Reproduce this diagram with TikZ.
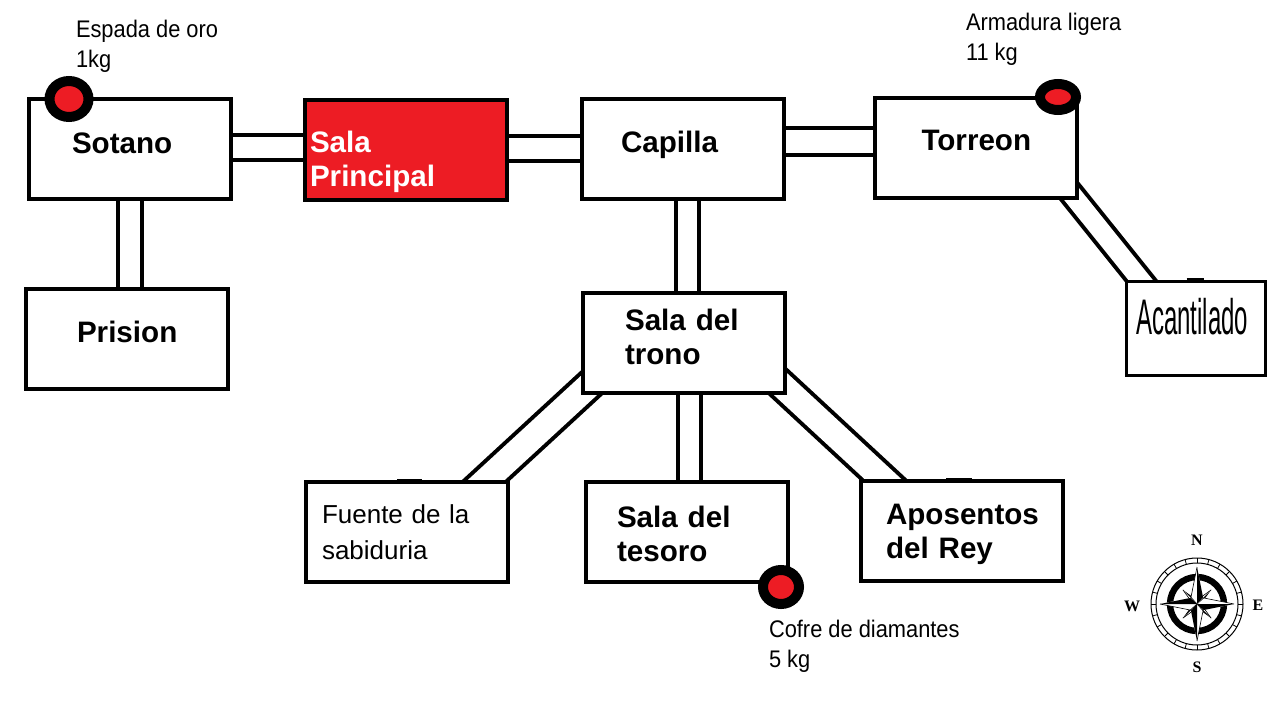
\documentclass[tikz,border=0pt]{standalone}
\usepackage{fontspec}
\setmainfont{Liberation Sans}
\newfontfamily\itemfont[FakeStretch=.91]{Liberation Sans}
\newfontfamily\tallfont[FakeStretch=.48]{Liberation Sans}
\newfontfamily\rosefont{Liberation Serif}
\usetikzlibrary{backgrounds,shapes.geometric}
\definecolor{roomred}{HTML}{ED1C24}
% text inside a box: right by #1, up by #2
\newcommand{\roomtext}[3]{\hspace*{#1}\raisebox{#2}[0pt][0pt]{\begin{tabular}{@{}l@{}}#3\end{tabular}}}
\begin{document}
\begin{tikzpicture}[x=.5pt,y=-.5pt,
    every node/.style={inner sep=0pt,outer sep=0pt},
    roombox/.style={draw,line width=2pt,fill=white,minimum width=101pt,minimum height=50pt,
      text width=101pt,align=left,font=\fontsize{14.8}{17}\selectfont\bfseries},
    plainbox/.style={roombox,font=\fontsize{13}{18}\selectfont\rmfamily},
    corridor/.style={line width=2pt,double=white,double distance=#1},
    itemdot/.style={ellipse,draw,line width=5pt,fill=roomred,minimum width=19.5pt,minimum height=18pt},
    itemlabel/.style={anchor=north west,align=left,font=\fontsize{12}{15}\selectfont\itemfont}]
    \useasboundingbox (0,0) rectangle (1280,706);

    % rooms
    \node[roombox] (sotano) at (130,149) {\roomtext{21.5pt}{-2.5pt}{Sotano}};
    \node[roombox,fill=roomred,text=white] (principal) at (406,150) {\roomtext{2.5pt}{-10pt}{Sala\\Principal}};
    \node[roombox] (capilla) at (683,149) {\roomtext{19.5pt}{-2pt}{Capilla}};
    \node[roombox] (torreon) at (975.5,148) {\roomtext{23.5pt}{-1.5pt}{Torreon}};
    \node[roombox] (prision) at (127,338.5) {\roomtext{25.5pt}{-2pt}{Prision}};
    \node[roombox] (trono) at (684,342.5) {\roomtext{21pt}{-2.5pt}{Sala del\\trono}};
    \node[plainbox] (fuente) at (407,532) {\roomtext{8pt}{-4pt}{Fuente de la\\sabiduria}};
    \node[roombox] (tesoro) at (687,532) {\roomtext{15.5pt}{-6.5pt}{Sala del\\tesoro}};
    \node[roombox] (aposentos) at (962,531) {\roomtext{12.5pt}{-5.25pt}{Aposentos\\del Rey}};
    \node[roombox,line width=1.5pt,minimum width=69.5pt,minimum height=47pt,text width=69.5pt,
      font=\fontsize{25}{28}\selectfont\tallfont] (acantilado) at (1195.5,328) {\roomtext{5pt}{-4pt}{Acantilado}};

    % corridors, their ends are hidden by the boxes
    \begin{scope}[on background layer]
      \draw[corridor=10.5pt] ([yshift=.5pt]sotano.east) -- ([yshift=1pt]principal.west);
      \draw[corridor=10.5pt] ([yshift=.75pt]principal.east) -- ([yshift=.25pt]capilla.west);
      \draw[corridor=11.5pt] ([yshift=3.75pt]capilla.east) -- ([yshift=3.25pt]torreon.west);
      \draw[corridor=10pt] (sotano.south) -- ([xshift=1.5pt]prision.north);
      \draw[corridor=9.5pt] ([xshift=2pt]capilla.south) -- ([xshift=1.5pt]trono.north);
      \draw[corridor=9.5pt] ([xshift=2.75pt]trono.south) -- ([xshift=1.25pt]tesoro.north);
      \draw[corridor=12.5pt] ([shift={(20,-20)}]trono.south west) -- ([shift={(-38,13)}]fuente.north east);
      \draw[corridor=12.5pt] ([shift={(-17,-20)}]trono.south east) -- ([shift={(37,12)}]aposentos.north west);
      \draw[corridor=9.5pt] ([shift={(-21,-24)}]torreon.south east) -- ([shift={(25,12)}]acantilado.north west);
    \end{scope}
    % thicker bits on top of three boxes
    \foreach \room/\dx/\len in {acantilado/-9/17,fuente/-10/25,aposentos/-16/26}
      \draw[line width=1.5pt] ([shift={(\dx,-2)}]\room.north) -- ++(\len,0);

    % things to pick up
    \node[itemdot] (dotespada) at (69,99) {};
    \node[itemdot,minimum width=18pt,minimum height=13pt] (dotarmadura) at (1058,97) {};
    \node[itemdot,minimum width=18pt,minimum height=17pt] (dotcofre) at (781,587) {};
    \node[itemlabel] (espada) at (76,20) {Espada de oro\\1kg};
    \node[itemlabel] (armadura) at (966,13) {Armadura ligera\\11 kg};
    \node[itemlabel] (cofre) at (769,620) {Cofre de diamantes\\5 kg};

    % compass
    \begin{scope}[shift={(1197,604)}]
      \draw[line width=.5pt] (0,0) circle (46) (0,0) circle (41);
      \foreach \a in {0,15,...,345}
        \draw[line width=.4pt] (\a:41) -- (\a:46);
      \draw[line width=3.2pt] (0,0) circle (27);
      \foreach \a in {45,135,225,315} {
        \fill[white] (\a:20) -- (\a+30:6) -- (\a-30:6) -- cycle;
        \fill (\a:20) -- (\a+30:5) -- (0,0) -- cycle;
        \draw[line width=.3pt] (\a:20) -- (\a-30:5) -- (0,0);
      }
      \foreach \a in {0,90,180,270} {
        \fill[white] (\a:37) -- (\a+42:9) -- (0,0) -- (\a-42:9) -- cycle;
        \fill (\a:37) -- (\a+42:9) -- (0,0) -- cycle;
        \draw[line width=.3pt] (\a:37) -- (\a-42:9) -- (0,0);
      }
    \end{scope}
    \foreach \name/\x/\y in {N/1197/540,S/1197/667,W/1132/606,E/1258/605}
      \node[font=\fontsize{8}{9}\selectfont\rosefont\bfseries] (rose\name) at (\x,\y) {\name};
\end{tikzpicture}
\end{document}
